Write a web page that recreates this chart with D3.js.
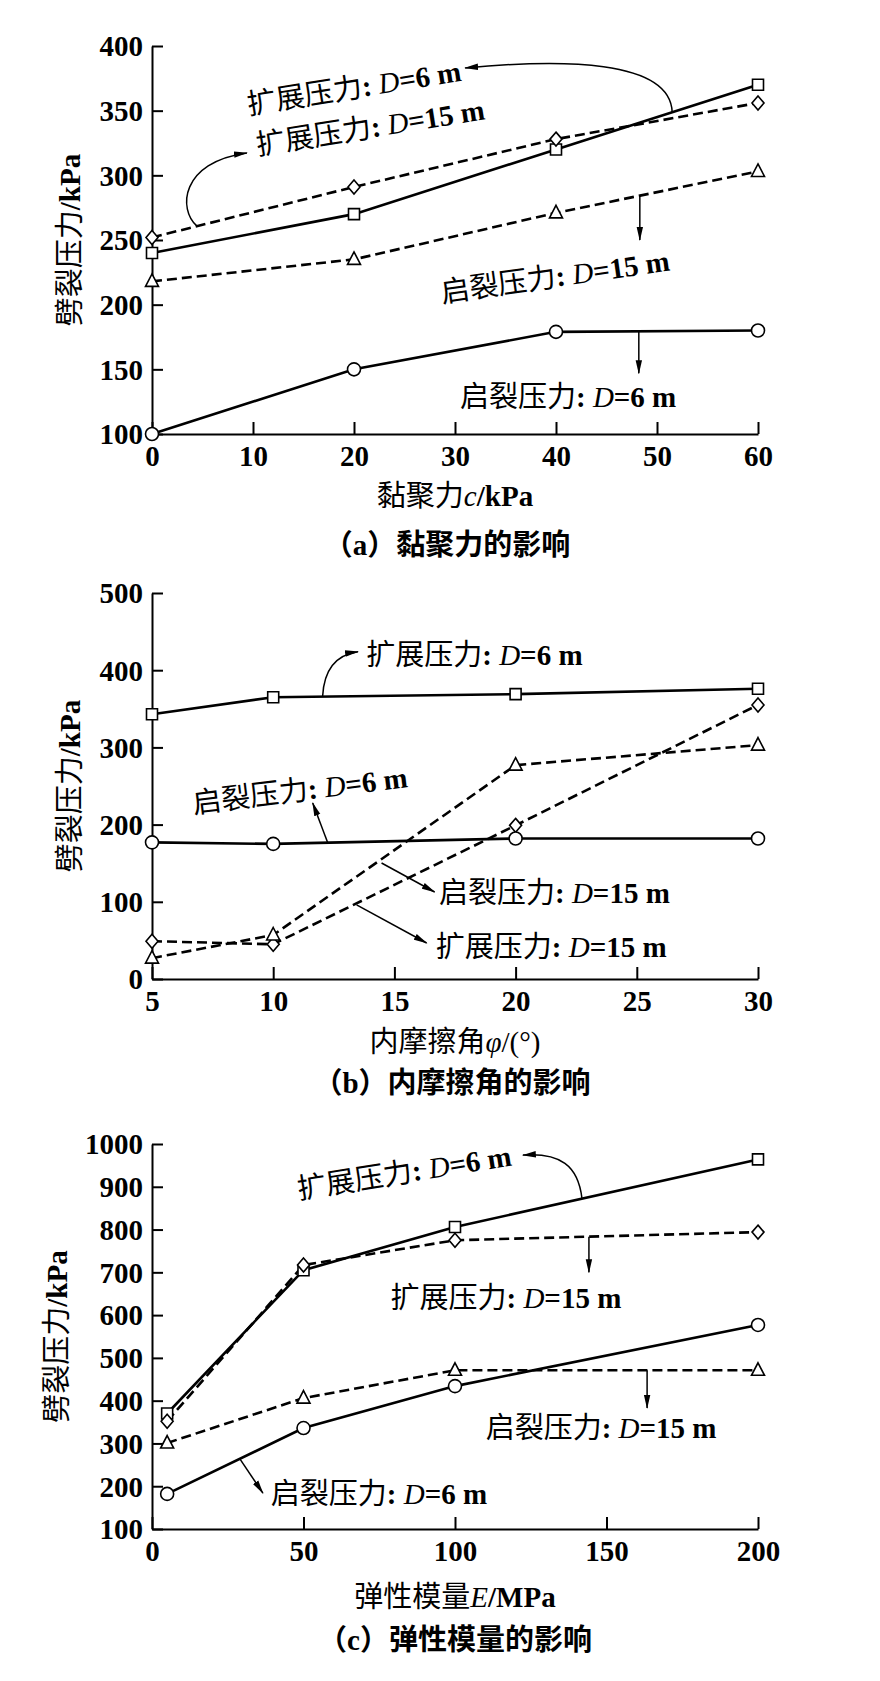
<!DOCTYPE html>
<html><head><meta charset="utf-8">
<script src="https://cdn.jsdelivr.net/npm/d3@7"></script>
<style>body{margin:0;background:#fff} svg{display:block}</style>
</head><body><svg id="chart" width="880" height="1681"></svg>
<script>
// ---------------- data ----------------
const cohesion = [0, 20, 40, 60];
const a_propD6  = [240, 270, 320, 370];
const a_propD15 = [252, 291, 328, 356];
const a_initD15 = [218, 235, 271, 303];
const a_initD6  = [100, 150, 179, 180];

const frictionAngle = [5, 10, 20, 30];
const b_propD6  = [343, 365, 369, 376];
const b_propD15 = [49, 45, 199, 355];
const b_initD15 = [27, 57, 277, 303];
const b_initD6  = [177, 175, 182, 182];

const modulus = [5, 50, 100, 200];
const c_propD6  = [370, 705, 806, 964];
const c_propD15 = [352, 717, 775, 794];
const c_initD15 = [301, 406, 471, 471];
const c_initD6  = [182, 336, 434, 577];

const aXTicks = [0, 10, 20, 30, 40, 50, 60];
const aYTicks = [100, 150, 200, 250, 300, 350, 400];
const bXTicks = [5, 10, 15, 20, 25, 30];
const bYTicks = [0, 100, 200, 300, 400, 500];
const cXTicks = [0, 50, 100, 150, 200];
const cYTicks = [100, 200, 300, 400, 500, 600, 700, 800, 900, 1000];

const PROP = "扩展压力", INIT = "启裂压力";
const yTitle = [{t:"劈裂压力",f:"c"},{t:"/kPa",f:"b"}];
const aXTitle = [{t:"黏聚力",f:"c"},{t:"c",f:"i"},{t:"/kPa",f:"b"}];
const bXTitle = [{t:"内摩擦角",f:"c"},{t:"φ",f:"i"},{t:"/(°)",f:"r"}];
const cXTitle = [{t:"弹性模量",f:"c"},{t:"E",f:"i"},{t:"/MPa",f:"b"}];
const aCaption = [{t:"（",f:"cb"},{t:"a",f:"b"},{t:"）黏聚力的影响",f:"cb"}];
const bCaption = [{t:"（",f:"cb"},{t:"b",f:"b"},{t:"）内摩擦角的影响",f:"cb"}];
const cCaption = [{t:"（",f:"cb"},{t:"c",f:"b"},{t:"）弹性模量的影响",f:"cb"}];

// annotation anchors in data units
const aNotes = [
  {kind:PROP, d:"6",  x:20.0, y:368,   rot:-9},
  {kind:PROP, d:"15", x:21.6, y:337.4, rot:-9},
  {kind:INIT, d:"15", x:39.9, y:222,   rot:-8},
  {kind:INIT, d:"6",  x:41.2, y:128.6, rot:0}
];
const aArrows = [
  [[51.5,349],[51.3,390],[40.4,390],[31,383]],
  [[4.46,260.7],[2.57,273.2],[2.77,310.3],[9.4,317.3]],
  [[48.3,284],[48.3,250]],
  [[48.2,180],[48.2,147]]
];
const bNotes = [
  {kind:PROP, d:"6",  x:18.3, y:420,   rot:0},
  {kind:INIT, d:"6",  x:11.1, y:245,   rot:-7},
  {kind:INIT, d:"15", x:21.6, y:111.4, rot:0},
  {kind:PROP, d:"15", x:21.47,y:41.5,  rot:0}
];
const bArrows = [
  [[12.04,366.6],[12.1,401],[12.6,420],[13.5,424]],
  [[12.25,176.6],[11.63,228]],
  [[14.47,150.3],[16.66,112.7]],
  [[13.44,95.9],[16.33,46.6]]
];
const cNotes = [
  {kind:PROP, d:"6",  x:83.2,  y:934.5, rot:-9},
  {kind:PROP, d:"15", x:116.8, y:642,   rot:0},
  {kind:INIT, d:"15", x:148.2, y:338,   rot:0},
  {kind:INIT, d:"6",  x:74.9,  y:184,   rot:0}
];
const cArrows = [
  [[141.9,873],[140.6,950],[134.7,980],[122.4,974]],
  [[144.2,783],[144.2,700]],
  [[163.4,471],[163.4,383]],
  [[29,264],[36.6,184]]
];

// ---------------- styling / layout ----------------
const SERIF = "'Liberation Serif','Times New Roman',serif";
const CJK = "'Noto Sans CJK SC','Noto Sans CJK JP',sans-serif";
const svg = d3.select("#chart");
const X0 = 152, X1 = 758;
const FS = 29;

const defs = svg.append("defs");
defs.append("marker").attr("id","arr").attr("viewBox","0 0 14 8")
  .attr("refX",13).attr("refY",4).attr("markerWidth",14).attr("markerHeight",8)
  .attr("markerUnits","userSpaceOnUse").attr("orient","auto")
  .append("path").attr("d","M0,0.8 L14,4 L0,7.2 Z").attr("fill","#000");

const symSquare = {draw(c){c.moveTo(-5.5,-5.5);c.lineTo(5.5,-5.5);c.lineTo(5.5,5.5);c.lineTo(-5.5,5.5);c.closePath();}};
const symCircle = {draw(c){c.moveTo(6.5,0);c.arc(0,0,6.5,0,2*Math.PI);}};
const symDiamond = {draw(c){c.moveTo(0,-7);c.lineTo(6,0);c.lineTo(0,7);c.lineTo(-6,0);c.closePath();}};
const symTriangle = {draw(c){c.moveTo(0,-7.5);c.lineTo(6.5,5);c.lineTo(-6.5,5);c.closePath();}};

function rich(sel, parts){
  parts.forEach(p=>{
    sel.append("tspan").text(p.t)
      .attr("font-family", (p.f==="c"||p.f==="cb") ? CJK : SERIF)
      .attr("font-weight", (p.f==="b"||p.f==="cb") ? 700 : 400)
      .attr("font-style", p.f==="i" ? "italic" : "normal");
  });
}
function noteParts(kind, d){
  return [{t:kind,f:"c"},{t:": ",f:"b"},{t:"D",f:"i"},{t:"="+d+" m",f:"b"}];
}

function panel(cfg){
  const x = d3.scaleLinear().domain(cfg.xDom).range([X0, X1]);
  const y = d3.scaleLinear().domain(cfg.yDom).range([cfg.bottom, cfg.top]);
  const g = svg.append("g");

  const xa = g.append("g").attr("transform",`translate(0,${cfg.bottom})`)
    .call(d3.axisBottom(x).tickValues(cfg.xTicks).tickFormat(d3.format("d"))
      .tickSizeInner(-12).tickSizeOuter(0).tickPadding(11));
  const ya = g.append("g").attr("transform",`translate(${X0},0)`)
    .call(d3.axisLeft(y).tickValues(cfg.yTicks).tickFormat(d3.format("d"))
      .tickSizeInner(-11).tickSizeOuter(0).tickPadding(9));
  [xa, ya].forEach(a=>{
    a.attr("font-family",SERIF).attr("font-size",FS).attr("font-weight",700);
    a.select(".domain").attr("stroke","#000").attr("stroke-width",2);
    a.selectAll(".tick line").attr("stroke","#000").attr("stroke-width",2);
    a.selectAll(".tick text").attr("fill","#000");
  });
  ya.selectAll(".tick text").attr("dy","0.34em");

  const line = d3.line().x((d,i)=>x(cfg.xs[i])).y(d=>y(d));
  const styles = [
    {vals:cfg.s[0], dash:null,   sym:symSquare},
    {vals:cfg.s[1], dash:"10,5", sym:symDiamond},
    {vals:cfg.s[2], dash:"10,5", sym:symTriangle},
    {vals:cfg.s[3], dash:null,   sym:symCircle}
  ];
  styles.forEach(s=>{
    g.append("path").attr("d", line(s.vals)).attr("fill","none").attr("stroke","#000")
      .attr("stroke-width", 2.6).attr("stroke-dasharray", s.dash);
  });
  styles.forEach(s=>{
    g.selectAll(null).data(s.vals).enter().append("path")
      .attr("d", d3.symbol().type(s.sym))
      .attr("transform",(d,i)=>`translate(${x(cfg.xs[i])},${y(d)})`)
      .attr("fill","#fff").attr("stroke","#000").attr("stroke-width",1.6);
  });

  // annotations
  cfg.notes.forEach(n=>{
    const t = g.append("text").attr("font-size",FS).attr("text-anchor","middle").attr("dy","0.36em")
      .attr("transform",`translate(${x(n.x)},${y(n.y)}) rotate(${n.rot})`);
    rich(t, noteParts(n.kind, n.d));
  });
  cfg.arrows.forEach(a=>{
    const p = d3.path();
    p.moveTo(x(a[0][0]), y(a[0][1]));
    if (a.length === 4) p.bezierCurveTo(x(a[1][0]),y(a[1][1]),x(a[2][0]),y(a[2][1]),x(a[3][0]),y(a[3][1]));
    else p.lineTo(x(a[1][0]), y(a[1][1]));
    g.append("path").attr("d", p.toString()).attr("fill","none").attr("stroke","#000")
      .attr("stroke-width",1.5).attr("marker-end","url(#arr)");
  });

  // titles
  const yt = g.append("text").attr("font-size",FS).attr("text-anchor","middle").attr("dy","0.36em")
    .attr("transform",`translate(${cfg.yTitleX},${(cfg.top+cfg.bottom)/2}) rotate(-90)`);
  rich(yt, yTitle);
  const xt = g.append("text").attr("font-size",FS).attr("text-anchor","middle").attr("dy","0.36em")
    .attr("x",(X0+X1)/2).attr("y",cfg.bottom+cfg.xTitleOff);
  rich(xt, cfg.xTitle);
  const cap = g.append("text").attr("font-size",FS).attr("text-anchor","middle").attr("dy","0.36em")
    .attr("x",cfg.capX).attr("y",cfg.bottom+cfg.capOff);
  rich(cap, cfg.caption);
}

panel({top:46, bottom:434, xDom:[0,60], yDom:[100,400], xTicks:aXTicks, yTicks:aYTicks,
  xs:cohesion, s:[a_propD6,a_propD15,a_initD15,a_initD6], notes:aNotes, arrows:aArrows,
  yTitleX:70, xTitle:aXTitle, xTitleOff:62, caption:aCaption, capOff:111, capX:447});
panel({top:593, bottom:979, xDom:[5,30], yDom:[0,500], xTicks:bXTicks, yTicks:bYTicks,
  xs:frictionAngle, s:[b_propD6,b_propD15,b_initD15,b_initD6], notes:bNotes, arrows:bArrows,
  yTitleX:70, xTitle:bXTitle, xTitleOff:63, caption:bCaption, capOff:104, capX:452});
panel({top:1144, bottom:1529, xDom:[0,200], yDom:[100,1000], xTicks:cXTicks, yTicks:cYTicks,
  xs:modulus, s:[c_propD6,c_propD15,c_initD15,c_initD6], notes:cNotes, arrows:cArrows,
  yTitleX:57, xTitle:cXTitle, xTitleOff:68, caption:cCaption, capOff:111, capX:455});
</script></body></html>
